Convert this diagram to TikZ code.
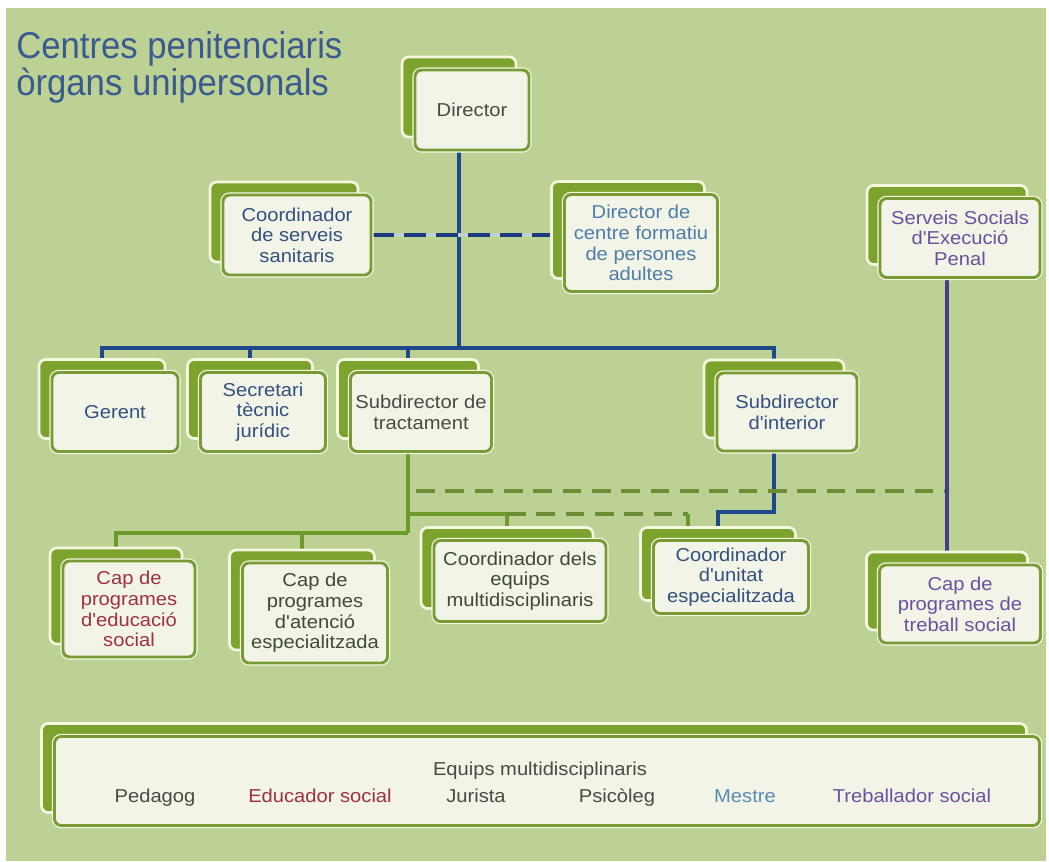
\documentclass[tikz,border=0pt]{standalone}
\usepackage{fontspec}
\setmainfont{Liberation Sans}[Ligatures=TeXOff]
\newfontfamily\boxfont{Liberation Sans}[Ligatures=TeXOff, FakeStretch=1.08]
\newfontfamily\headfont{Liberation Sans}[Ligatures=TeXOff, FakeStretch=0.93]
\usetikzlibrary{calc}
\pgfdeclarelayer{back}
\pgfdeclarelayer{lines}
\pgfsetlayers{back,lines,main}
\definecolor{bgg}{HTML}{BDD195}
\definecolor{boxdark}{HTML}{7BA32E}
\definecolor{boxpale}{HTML}{F4F8DF}
\definecolor{frontfill}{HTML}{F1F4E7}
\definecolor{frontedge}{HTML}{789B36}
\definecolor{titleblue}{HTML}{3A5B8F}
\definecolor{tgray}{HTML}{4A4A44}
\definecolor{tdblue}{HTML}{34507E}
\definecolor{tlblue}{HTML}{4D7DA8}
\definecolor{tpurple}{HTML}{6B4FA0}
\definecolor{tred}{HTML}{A03040}
\definecolor{tolive}{HTML}{3F4A35}
\definecolor{tmestre}{HTML}{5A8AB0}
\definecolor{lblue}{HTML}{1E4A8C}
\definecolor{ldash}{HTML}{1C3A80}
\definecolor{lgreen}{HTML}{6E9A2C}
\definecolor{lgdash}{HTML}{6B8E35}
\definecolor{lpurple}{HTML}{4A3A8C}
\definecolor{gapgray}{HTML}{C6CEC8}
\tikzset{
  backbox/.style={fill=boxdark, draw=boxpale, line width=2pt, rounded corners=5pt, inner sep=0pt},
  frontbox/.style={fill=frontfill, draw=frontedge, line width=2.2pt, rounded corners=5pt,
    preaction={draw=boxpale, line width=4pt}, align=center, inner sep=0pt,
    font=\boxfont\fontsize{14}{15.5}\selectfont},
  titlef/.style={text=titleblue, font=\headfont\fontsize{28}{28.5}\selectfont, inner sep=0pt, anchor=base west},
  eqtext/.style={font=\boxfont\fontsize{14}{15}\selectfont, inner sep=0pt, anchor=base},
  blueline/.style={draw=lblue, line width=2.4pt},
  bluedash/.style={draw=ldash, line width=3.6pt, dash pattern=on 16pt off 8pt},
  greenline/.style={draw=lgreen, line width=2.3pt},
  greendash/.style={draw=lgdash, line width=2.6pt, dash pattern=on 14pt off 8pt},
  purpleline/.style={draw=lpurple, line width=2.6pt}
}
% name, cx, cy, w, h, colour, text
\newcommand\orgbox[7]{%
  \node[backbox, minimum width=#4*0.75pt, minimum height=#5*0.75pt] (#1b) at (#2-13,#3-13) {};
  \node[frontbox, text=#6, minimum width=#4*0.75pt, minimum height=#5*0.75pt] (#1) at (#2,#3) {#7};
}
\begin{document}
\begin{tikzpicture}[x=0.75pt,y=-0.75pt]
\useasboundingbox (0,0) rectangle (1049,861);
\begin{pgfonlayer}{back}
  \fill[white] (0,0) rectangle (1049,861);
  \fill[bgg] (6,8) rectangle (1046,861);
\end{pgfonlayer}

\node[titlef] (t1) at (16,58) {Centres penitenciaris};
\node[titlef] (t2) at (16,95) {òrgans unipersonals};

\orgbox{dir}{472}{110}{114}{80}{tgray}{Director}
\orgbox{coord}{297}{235}{148}{80}{tdblue}{Coordinador\\de serveis\\sanitaris}
\orgbox{dcf}{641}{243}{153}{97}{tlblue}{Director de\\centre formatiu\\de persones\\adultes}
\orgbox{sss}{960}{238}{160}{79}{tpurple}{Serveis Socials\\d'Execució\\Penal}
\orgbox{ger}{115}{412}{126}{79}{tdblue}{Gerent}
\orgbox{sec}{263}{412}{125}{79}{tdblue}{Secretari\\tècnic\\jurídic}
\orgbox{sdt}{421}{412}{141}{79}{tgray}{Subdirector de\\tractament}
\orgbox{sdi}{787}{412}{140}{78}{tdblue}{Subdirector\\d'interior}
\orgbox{cpe}{129}{609}{132}{96}{tred}{Cap de\\programes\\d'educació\\social}
\orgbox{cpa}{315}{613}{145}{100}{tolive}{Cap de\\programes\\d'atenció\\especialitzada}
\orgbox{ceq}{520}{581}{172}{81}{tolive}{Coordinador dels\\equips\\multidisciplinaris}
\orgbox{cun}{731}{577}{155}{73}{tdblue}{Coordinador\\d'unitat\\especialitzada}
\orgbox{cts}{960}{604}{161}{78}{tpurple}{Cap de\\programes de\\treball social}
\orgbox{eq}{547}{781}{985}{89}{tgray}{}

\node[eqtext, text=tgray] (eqt) at (540,775) {Equips multidisciplinaris};
\node[eqtext, text=tgray] (e1) at (155,802) {Pedagog};
\node[eqtext, text=tred] (e2) at (320,802) {Educador social};
\node[eqtext, text=tgray] (e3) at (476,802) {Jurista};
\node[eqtext, text=tgray] (e4) at (617,802) {Psicòleg};
\node[eqtext, text=tmestre] (e5) at (745,802) {Mestre};
\node[eqtext, text=tpurple] (e6) at (912,802) {Treballador social};

\coordinate (bus) at (0,348);
\coordinate (ub) at (0,491);
\coordinate (lb) at (0,514);
\coordinate (gbus) at (0,533);
\coordinate (ibus) at (0,512);
\coordinate (cunin) at ($(cunb.north)+(-30,0)$);

\begin{pgfonlayer}{lines}
  % blue hierarchy
  \draw[blueline] (dirb.south) -- (dirb.south |- bus);
  \draw[blueline] (gerb.north) -- (gerb.north |- bus) -- (sdib.north |- bus) -- (sdib.north);
  \draw[blueline] (secb.north) -- (secb.north |- bus);
  \draw[blueline] (sdtb.north) -- (sdtb.north |- bus);
  \draw[blueline] (sdib.south) -- (sdib.south |- ibus) -- (cunb.north |- ibus) -- (cunb.north);
  % blue dashed
  \draw[draw=gapgray, line width=3.6pt] (coord.east) -- (coord.east -| dcf.west);
  \draw[bluedash] (coord.east) -- (coord.east -| dcf.west);
  % green
  \draw[greenline] (sdtb.south) -- (sdtb.south |- gbus);
  \draw[greenline] (cpeb.north) -- (cpeb.north |- gbus) -- (sdtb.south |- gbus);
  \draw[greenline] (cpab.north) -- (cpab.north |- gbus);
  \draw[greenline] (sdtb.south |- lb) -- (ceqb.north |- lb) -- (ceqb.north);
  \draw[greendash] (ceqb.north |- lb) -- (cunin |- lb);
  \draw[greenline] (cunin |- lb) -- (cunin);
  \draw[greendash] ([xshift=6pt]sdtb.south |- ub) -- (ctsb.north |- ub);
  % purple
  \draw[purpleline] (sssb.south) -- (ctsb.north);
\end{pgfonlayer}
\end{tikzpicture}
\end{document}
